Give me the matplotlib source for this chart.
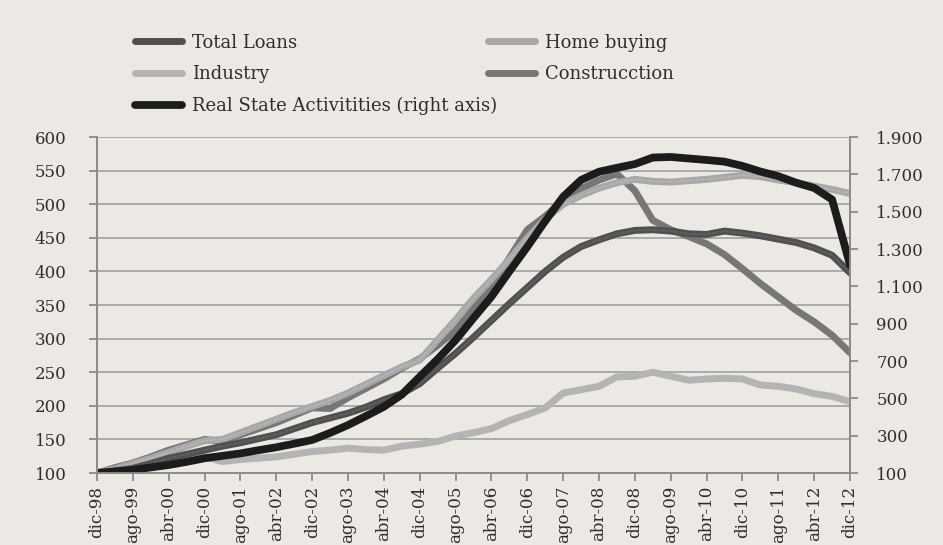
import numpy as np
import matplotlib
matplotlib.use("Agg")
import matplotlib.pyplot as plt

# index 100 = dic-98, one value every 4 months up to dic-12
total_loans = [100, 103, 107, 114, 122, 128, 134, 140, 145, 151, 157, 166, 175, 182,
               189, 198, 209, 218, 233, 256, 278, 302, 327, 352, 376, 400, 421, 437,
               447, 456, 461, 462, 460, 456, 455, 460, 457, 453, 448, 443, 435, 424, 398]
home_buying = [100, 106, 114, 122, 131, 140, 148, 150, 160, 170, 180, 190, 199, 208,
               219, 232, 245, 258, 268, 298, 328, 360, 388, 418, 450, 478, 500, 513,
               524, 532, 537, 534, 533, 535, 537, 540, 543, 541, 536, 532, 527, 522, 516]
industry = [100, 104, 107, 112, 117, 121, 124, 117, 120, 122, 124, 128, 132, 134,
            137, 135, 134, 140, 143, 147, 155, 160, 166, 178, 187, 197, 219, 224,
            229, 243, 244, 250, 244, 238, 240, 241, 240, 231, 229, 225, 218, 214, 206]
construction = [100, 108, 115, 124, 134, 142, 150, 147, 157, 166, 175, 186, 197, 196,
                212, 226, 240, 256, 270, 290, 312, 345, 377, 420, 462, 482, 506, 523,
                536, 545, 520, 476, 462, 452, 441, 425, 404, 382, 362, 342, 325, 305, 279]
real_estate = [100, 108, 116, 130, 143, 160, 179, 192, 205, 222, 238, 257, 277, 315,
               357, 405, 455, 520, 616, 710, 812, 930, 1045, 1180, 1312, 1450, 1580, 1670,
               1714, 1735, 1755, 1790, 1793, 1785, 1777, 1768, 1745, 1715, 1690, 1655, 1627, 1565, 1214]

tick_labels = ["dic-98", "ago-99", "abr-00", "dic-00", "ago-01", "abr-02", "dic-02",
               "ago-03", "abr-04", "dic-04", "ago-05", "abr-06", "dic-06", "ago-07",
               "abr-08", "dic-08", "ago-09", "abr-10", "dic-10", "ago-11", "abr-12", "dic-12"]
left_ticks = list(range(100, 601, 50))
right_ticks = list(range(100, 1901, 200))

months = np.arange(len(total_loans)) * 4
tick_pos = np.arange(len(tick_labels)) * 8

bg = "#ece8e4"
txt = "#2e2e2e"
axc = "#8c8c8c"
plt.rcParams['font.family'] = ['DejaVu Serif']

fig = plt.figure(figsize=(9.43, 5.45), dpi=100, facecolor=bg)
ax = fig.add_axes([0.1029, 0.1321, 0.7985, 0.6165], facecolor=bg)
ax2 = ax.twinx()

lw = 5.0
speck = (0, (0.6, 0.9))
l_ind, = ax.plot(months, industry, color="#b4b4b4", lw=lw, solid_capstyle="round", zorder=3)
l_con, = ax.plot(months, construction, color="#777777", lw=lw, solid_capstyle="round", zorder=4)
l_hb, = ax.plot(months, home_buying, color="#a8a8a8", lw=lw, solid_capstyle="round", zorder=5)
ax.plot(months, home_buying, color="#c4c4c4", lw=1.2, ls=speck, zorder=5)  # speckle texture
l_tl, = ax.plot(months, total_loans, color="#505050", lw=lw, solid_capstyle="round", zorder=6)
ax.plot(months, total_loans, color="#707070", lw=1.2, ls=speck, zorder=6)
l_re, = ax2.plot(months, real_estate, color="#1c1c1c", lw=5.6, solid_capstyle="round")

ax.set_xlim(0, 168)
ax.set_ylim(100, 600)
ax2.set_ylim(100, 1900)
ax.set_yticks(left_ticks)
ax2.set_yticks(right_ticks)
ax2.set_yticklabels([f"{v:,}".replace(",", ".") for v in right_ticks])
ax.set_xticks(tick_pos)
ax.set_xticklabels(tick_labels, rotation=90)

ax.grid(axis="y", color="#a0a0a0", lw=1.2)
ax.set_axisbelow(True)
for a in (ax, ax2):
    for s in a.spines.values():
        s.set_color(axc)
        s.set_linewidth(1.3)
    a.spines["top"].set_visible(False)
ax.tick_params(axis="both", direction="out", color=axc, width=1.3, length=6,
               labelcolor=txt, labelsize=12)
ax.tick_params(axis="y", pad=16)
ax.tick_params(axis="x", pad=3)
ax2.tick_params(axis="y", direction="out", color=axc, width=1.3, length=6,
                labelcolor=txt, labelsize=12, pad=13)

handles = [l_tl, l_ind, l_re, l_hb, l_con]
labels = ["Total Loans", "Industry", "Real State Activitities (right axis)",
          "Home buying", "Construcction"]
fig.legend(handles, labels, ncol=2, loc="upper left", bbox_to_anchor=(0.126, 0.968),
           frameon=False, fontsize=13, labelcolor=txt, handlelength=2.6,
           handletextpad=0.55, labelspacing=0.75, columnspacing=-0.5)

fig.savefig("out.png", dpi=100, facecolor=bg)
